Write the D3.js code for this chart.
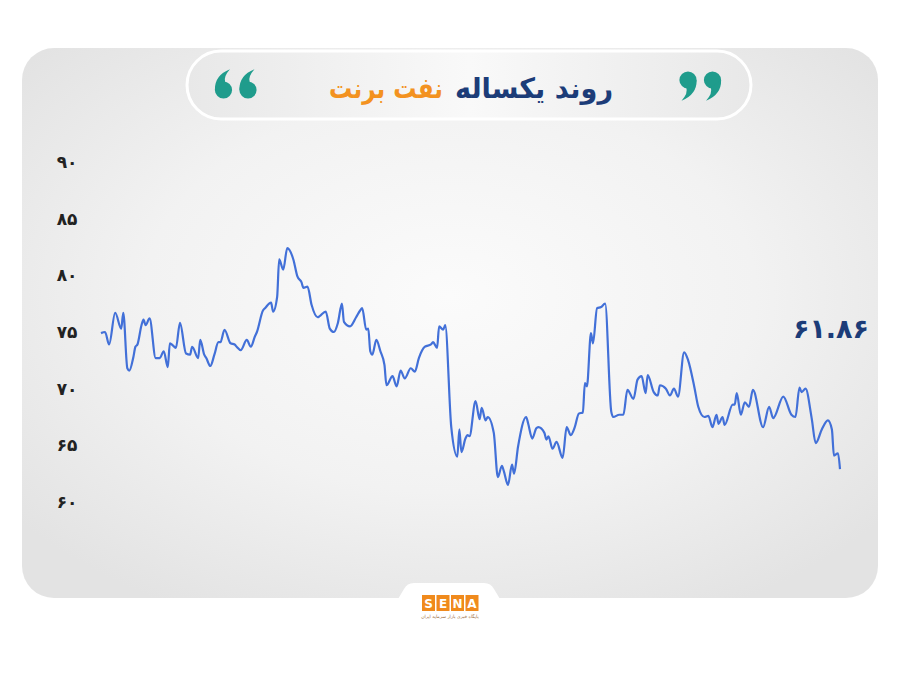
<!DOCTYPE html>
<html><head><meta charset="utf-8">
<script src="https://cdn.jsdelivr.net/npm/d3@7/dist/d3.min.js"></script>
<style>html,body{margin:0;padding:0;background:#fff;}svg{display:block;}</style>
</head><body>
<svg id="c" width="900" height="675"></svg>
<script>
// Day index within the year (0..365)
const days = [0,2,4,7,10,11,13,14,16,17,18,20,21,22,24,27,29,31,33,34,35,37,39,42,44,45,48,49,51,52,54,56,58,59,61,64,66,67,69,72,74,76,77,80,81,84,85,87,88,90,92,95,97,99,100,102,104,107,108,111,113,115,117,119,120,123,126,128,129,131,132,133,134,136,138,140,141,144,146,148,150,153,155,157,160,163,164,166,167,169,170,173,176,177,178,180,181,182,185,187,188,190,191,194,196,198,199,201,203,204,206,210,211,213,215,216,219,220,221,223,225,228,230,232,234,236,238,239,240,242,243,245,247,249,252,253,256,258,260,263,265,267,269,270,273,275,276,279,281,283,285,288,290,293,295,298,300,302,304,305,307,308,312,313,314,316,318,320,322,327,330,332,337,341,343,345,346,348,351,353,356,359,361,362,364,365];
// Brent price (USD/bbl)
const prices = [74.9,75.0,73.9,76.7,75.3,76.7,71.8,71.6,72.8,73.7,73.9,75.6,76.1,75.6,76.2,72.7,72.7,73.3,71.9,74.0,73.9,73.6,75.8,73.1,73.0,73.7,72.7,74.3,73.0,72.7,72.0,73.0,74.1,74.1,75.2,74.0,73.9,73.7,73.4,74.3,73.7,74.6,75.0,76.9,77.1,77.6,76.8,78.1,81.4,80.5,82.4,81.4,79.9,79.4,78.9,79.0,77.4,76.3,76.4,76.8,75.3,75.0,75.8,77.5,75.9,75.5,76.3,76.9,77.1,75.2,75.3,73.3,73.0,74.3,73.3,72.1,70.3,71.1,70.2,71.6,70.9,71.8,71.5,72.7,73.7,73.9,74.1,73.6,75.5,75.2,75.6,66.6,64.0,66.4,64.4,65.6,65.9,65.8,68.9,67.3,68.3,67.2,67.5,66.1,62.2,63.2,62.7,61.5,63.3,62.5,64.9,67.5,66.9,65.6,66.5,66.6,66.1,65.5,65.8,64.7,65.3,63.9,66.6,65.9,66.6,67.8,67.9,70.5,70.2,74.9,74.0,77.1,77.2,77.5,68.0,67.5,67.7,67.7,69.9,69.1,70.8,71.1,69.6,71.2,69.7,69.4,70.3,70.0,69.4,70.0,69.3,73.2,72.5,70.2,68.4,67.5,67.6,66.6,67.7,66.9,67.5,66.8,68.6,68.6,69.6,67.7,68.8,68.4,69.9,66.6,68.4,67.4,69.3,67.7,67.5,70.1,69.7,70.0,67.4,65.2,66.4,67.2,66.4,64.1,64.3,62.9];
const yTicks = [60,65,70,75,80,85,90];
const lastLabel = "61.86";
const titleMain = "روند یکساله";
const titleAccent = "نفت برنت";

const fa = s => String(s).replace(/[0-9]/g, d => "۰۱۲۳۴۵۶۷۸۹"[+d]);

const svg = d3.select("#c");
const defs = svg.append("defs");
const rg = defs.append("radialGradient").attr("id","bg").attr("cx","50%").attr("cy","45%").attr("r","65%");
rg.append("stop").attr("offset","0%").attr("stop-color","#fbfbfb");
rg.append("stop").attr("offset","55%").attr("stop-color","#f2f2f2");
rg.append("stop").attr("offset","100%").attr("stop-color","#e3e3e3");
const lg = defs.append("linearGradient").attr("id","pill").attr("x1","0").attr("x2","1");
lg.append("stop").attr("offset","0%").attr("stop-color","#e8e8e8");
lg.append("stop").attr("offset","50%").attr("stop-color","#f9f9f9");
lg.append("stop").attr("offset","100%").attr("stop-color","#e8e8e8");

// card
svg.append("rect").attr("x",22).attr("y",48).attr("width",856).attr("height",550).attr("rx",32).attr("fill","url(#bg)");

// title pill
svg.append("rect").attr("x",187).attr("y",51).attr("width",564).attr("height",68).attr("rx",34)
  .attr("fill","url(#pill)").attr("stroke","#ffffff").attr("stroke-width",3);

svg.append("text").attr("x",613).attr("y",98).attr("text-anchor","end")
  .attr("font-family","DejaVu Sans").attr("font-weight","bold").attr("font-size",28)
  .attr("textLength",158).attr("lengthAdjust","spacingAndGlyphs")
  .attr("fill","#1c3c78").text(titleMain);
svg.append("text").attr("x",443).attr("y",98).attr("text-anchor","end")
  .attr("font-family","DejaVu Sans").attr("font-weight","bold").attr("font-size",28)
  .attr("textLength",114).attr("lengthAdjust","spacingAndGlyphs")
  .attr("fill","#f39220").text(titleAccent);

// quote marks drawn as "9"-shaped blobs
const quoteG = svg.append("g").attr("fill","#1f9c8c");
function nine(cx, cy, r, rot){
  const g = quoteG.append("g").attr("transform",`translate(${cx},${cy}) rotate(${rot})`);
  g.append("circle").attr("r",r);
  g.append("path").attr("d",`M${r},0 Q${r*1.05},${r*1.7} ${-r*0.75},${r*2.4} Q${r*0.05},${r*1.5} ${-r*0.2},${r*0.9} Z`);
}
nine(223.5, 90, 8.6, 180);
nine(248, 90, 8.6, 180);
nine(688, 80, 8.6, 0);
nine(712.5, 80, 8.6, 0);

// scales
const x = d3.scaleLinear().domain([0,365]).range([101,840]);
const y = d3.scaleLinear().domain([60,90]).range([502,162]);

const ax = svg.append("g").attr("transform","translate(80,0)")
  .call(d3.axisLeft(y).tickValues(yTicks).tickSize(0).tickPadding(0).tickFormat(d=>fa(d)));
ax.select(".domain").remove();
ax.selectAll("text").attr("x",-13).attr("text-anchor","middle").attr("font-family","DejaVu Sans")
  .attr("font-weight","bold").attr("font-size",17).attr("letter-spacing",-1.5).attr("fill","#222");

const data = days.map((d,i)=>({d, v:prices[i]}));
svg.append("path").datum(data)
  .attr("d", d3.line().x(p=>x(p.d)).y(p=>y(p.v)).curve(d3.curveMonotoneX))
  .attr("fill","none").attr("stroke","#4270d8").attr("stroke-width",2.2).attr("stroke-linejoin","round");

svg.append("text").attr("x",831).attr("y",338).attr("text-anchor","middle")
  .attr("font-family","DejaVu Sans").attr("font-weight","bold").attr("font-size",27)
  .attr("fill","#1c3c78").text(fa(lastLabel));

// bottom tab + logo
svg.append("path").attr("d","M398,599 L404,589 Q407,583 414,583 L484,583 Q491,583 494,589 L500,599 Z").attr("fill","#ffffff");
const letters = ["S","E","N","A"];
letters.forEach((l,i)=>{
  const bx = 422 + i*14.5;
  svg.append("rect").attr("x",bx).attr("y",595).attr("width",13).attr("height",16).attr("fill","#f08a1c");
  svg.append("text").attr("x",bx+6.5).attr("y",608).attr("text-anchor","middle")
    .attr("font-family","DejaVu Sans").attr("font-weight","bold").attr("font-size",12).attr("fill","#fff").text(l);
});
svg.append("text").attr("x",450).attr("y",618).attr("text-anchor","middle").attr("direction","rtl")
  .attr("font-family","DejaVu Sans").attr("font-size",4.5).attr("fill","#9a6a3a").text("پایگاه خبری بازار سرمایه ایران");
</script>
</body></html>
